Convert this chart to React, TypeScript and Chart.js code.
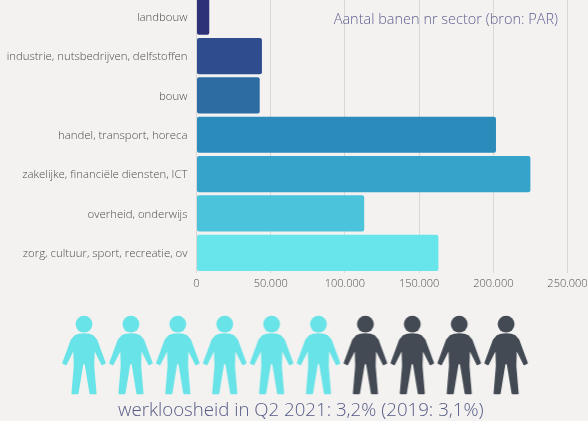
import React, { useEffect, useRef } from "react";
import { Chart, registerables } from "chart.js";

Chart.register(...registerables);

const categories = [
  "landbouw",
  "industrie, nutsbedrijven, delfstoffen",
  "bouw",
  "handel, transport, horeca",
  "zakelijke, financiële diensten, ICT",
  "overheid, onderwijs",
  "zorg, cultuur, sport, recreatie, ov",
];
const jobs = [8600, 44100, 42600, 201800, 225000, 113000, 163000];
const barColors = ["#2d3178", "#2f4c8e", "#2d6ca3", "#2b8bba", "#35a4cb", "#4bc3da", "#68e5ea"];
const title = "Aantal banen nr sector (bron: PAR)";
const caption = "werkloosheid in Q2 2021: 3,2% (2019: 3,1%)";
const people = [1, 2, 3, 4, 5, 6, 7, 8, 9, 10];
const peopleRow = [0, 0, 0, 0, 0, 0, 0, 0, 0, 0];
const peopleGroup = ["a", "a", "a", "a", "a", "a", "b", "b", "b", "b"];
const groupColors: Record<string, string> = { a: "#68e3e8", b: "#434a54" };

const FONT = '"Open Sans", sans-serif';

// half outline of the pictogram, mirrored when drawn
const bodyOutline: [number, number][] = [
  [0, 18],
  [5, 18.5],
  [9, 20],
  [12.5, 24],
  [21, 47],
  [18, 48.5],
  [10, 32.5],
  [9.5, 50],
  [11.8, 77.5],
  [6.2, 77.5],
  [1.3, 47.5],
];

function figure(color: string): HTMLCanvasElement {
  const c = document.createElement("canvas");
  c.width = 48;
  c.height = 82;
  const g = c.getContext("2d")!;
  g.translate(24, 1);
  g.fillStyle = color;
  g.strokeStyle = color;
  g.lineCap = "round";
  g.lineJoin = "round";
  g.beginPath();
  g.arc(0, 8.2, 8.4, 0, Math.PI * 2);
  g.fill();
  g.lineWidth = 1.5;
  g.beginPath();
  bodyOutline.forEach(([x, y], i) => (i === 0 ? g.moveTo(x, y) : g.lineTo(x, y)));
  [...bodyOutline].reverse().forEach(([x, y]) => g.lineTo(-x, y));
  g.closePath();
  g.fill();
  g.stroke();
  return c;
}

export default function App() {
  const barRef = useRef<HTMLCanvasElement>(null);
  const peopleRef = useRef<HTMLCanvasElement>(null);

  useEffect(() => {
    document.body.style.margin = "0";
    document.body.style.background = "#f3f2f0";
    document.body.style.overflow = "hidden";

    const tickFont = { family: FONT, size: 11.4, weight: "300" as const };
    const bars = new Chart(barRef.current!, {
      type: "bar",
      data: {
        labels: categories,
        datasets: [
          {
            data: jobs,
            backgroundColor: barColors,
            borderRadius: 2,
            borderSkipped: false,
            barPercentage: 0.92,
            categoryPercentage: 1,
          },
        ],
      },
      options: {
        indexAxis: "y",
        animation: false,
        responsive: false,
        layout: { autoPadding: false, padding: 0 },
        plugins: { legend: { display: false }, tooltip: { enabled: false }, title: { display: false } },
        scales: {
          x: {
            min: 0,
            max: 250000,
            afterFit: (s: any) => {
              s.height = 27.5;
              s.paddingRight = 20.5;
              s.paddingLeft = 0;
            },
            grid: { color: "#d9d8d6", lineWidth: 1, drawTicks: false },
            border: { display: false },
            ticks: {
              stepSize: 50000,
              padding: 5,
              maxRotation: 0,
              color: "#4f4f4f",
              font: { family: FONT, size: 11, weight: "300" as const },
              callback: (v: any) => Number(v).toLocaleString("de-DE"),
            },
          },
          y: {
            afterFit: (s: any) => {
              s.width = 196.5;
              s.paddingTop = 0;
              s.paddingBottom = 0;
            },
            grid: { display: false, drawTicks: false },
            border: { display: false },
            ticks: { padding: 9, labelOffset: 1, color: "#4f4f4f", font: tickFont, autoSkip: false },
          },
        },
      },
    });

    const icons: Record<string, HTMLCanvasElement> = {
      a: figure(groupColors.a),
      b: figure(groupColors.b),
    };
    const persons = new Chart(peopleRef.current!, {
      type: "scatter",
      data: {
        datasets: [
          {
            data: people.map((p, i) => ({ x: p, y: peopleRow[i] })),
            pointStyle: peopleGroup.map((g) => icons[g]) as any,
            pointRadius: 24,
          },
        ],
      },
      options: {
        animation: false,
        responsive: false,
        layout: { autoPadding: false, padding: 0 },
        plugins: { legend: { display: false }, tooltip: { enabled: false } },
        scales: {
          x: { display: false, min: 1 - 84 / 46.9, max: 1 - 84 / 46.9 + 588 / 46.9 },
          y: { display: false, min: -1, max: 1 },
        },
      },
    });

    return () => {
      bars.destroy();
      persons.destroy();
    };
  }, []);

  return (
    <div style={{ position: "relative", width: 588, height: 421, overflow: "hidden", background: "#f3f2f0" }}>
      <canvas
        ref={barRef}
        width={588}
        height={303}
        style={{ position: "absolute", left: 0, top: -3, width: 588, height: 303 }}
      />
      <canvas
        ref={peopleRef}
        width={588}
        height={120}
        style={{ position: "absolute", left: 0, top: 296, width: 588, height: 120 }}
      />
      <div
        style={{
          position: "absolute",
          right: 30,
          top: 8.5,
          font: `300 14.5px ${FONT}`,
          color: "#5f5f90",
          whiteSpace: "nowrap",
        }}
      >
        {title}
      </div>
      <div
        style={{
          position: "absolute",
          left: 118,
          top: 396,
          font: `300 18.66px ${FONT}`,
          color: "#565a86",
          whiteSpace: "nowrap",
        }}
      >
        {caption}
      </div>
    </div>
  );
}
